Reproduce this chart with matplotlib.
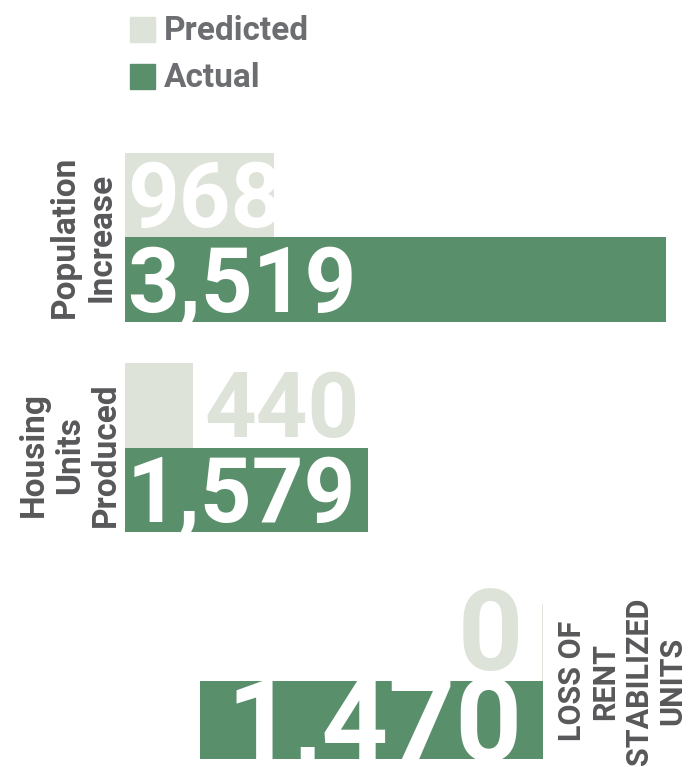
import matplotlib
matplotlib.use('Agg')
import matplotlib.pyplot as plt
from matplotlib.lines import Line2D

# data
categories = ['Population\nIncrease', 'Housing\nUnits\nProduced', 'LOSS OF\nRENT\nSTABILIZED\nUNITS']
predicted = [968, 440, 0]
actual = [3519, 1579, 1470]
pred_labels = ['968', '440', '0']
actual_labels = ['3,519', '1,579', '1,470']

LIGHT = '#dee3d9'
GREEN = '#5a8f6b'
LABEL_GRAY = '#58585a'
LEGEND_GRAY = '#6d6e72'

W, H = 689, 767
plt.rcParams['font.family'] = ['Roboto', 'DejaVu Sans']
fig = plt.figure(figsize=(W / 100, H / 100), dpi=100)


def px_rect(left, top, right, bottom):
    return [left / W, 1 - bottom / H, (right - left) / W, (bottom - top) / H]


def px2pt(p):
    return p * 0.72


def num_label(ax, x, y, s, color, fs, ha='left', dx=0, dy=0, clip=True):
    # baseline shifted so that digit height is centred on y
    ax.annotate(s, (x, y), xytext=(px2pt(dx), -0.355 * fs + px2pt(dy)),
                textcoords='offset points', ha=ha, va='baseline',
                fontsize=fs, fontweight='bold', color=color,
                annotation_clip=False, clip_on=clip)


def clean(ax):
    ax.set_ylim(-0.5, 1.5)
    ax.axis('off')


xmax = max(actual[0], actual[1])

# panel 1 - population
ax1 = fig.add_axes(px_rect(125, 153, 666, 322))
ax1.barh([1, 0], [predicted[0], actual[0]], height=1.0, color=[LIGHT, GREEN])
ax1.set_xlim(0, xmax)
clean(ax1)
num_label(ax1, 0, 1, pred_labels[0], 'white', 65, dx=2)
num_label(ax1, 0, 0, actual_labels[0], 'white', 65, dx=2)

# panel 2 - housing
ax2 = fig.add_axes(px_rect(125, 363, 666, 532))
ax2.barh([1, 0], [predicted[1], actual[1]], height=1.0, color=[LIGHT, GREEN])
ax2.set_xlim(0, xmax)
clean(ax2)
num_label(ax2, predicted[1], 1, pred_labels[1], LIGHT, 65, dx=12)
num_label(ax2, 0, 0, actual_labels[1], 'white', 65, dx=2)

# panel 3 - rent stabilized (bars grow leftwards)
ax3 = fig.add_axes(px_rect(200, 603, 543, 759))
ax3.barh([1, 0], [predicted[2], actual[2]], height=1.0, color=[LIGHT, GREEN],
         edgecolor=[LIGHT, 'none'], linewidth=2)
ax3.set_xlim(actual[2], 0)
clean(ax3)
num_label(ax3, 0, 1, pred_labels[2], LIGHT, 82, ha='right', dx=-20, dy=12, clip=False)
num_label(ax3, 0, 0, actual_labels[2], 'white', 84, ha='right', dx=-20)

# category labels
fig.text(83 / W, 1 - 237 / H, categories[0], rotation=90, ha='center', va='center',
         multialignment='center', fontsize=24, fontweight='bold', color=LABEL_GRAY,
         linespacing=1.2)
fig.text(70 / W, 1 - 455 / H, categories[1], rotation=90, ha='center', va='center',
         multialignment='center', fontsize=24, fontweight='bold', color=LABEL_GRAY,
         linespacing=1.15)
fig.text(622 / W, 1 - 681 / H, categories[2], rotation=90, ha='center', va='center',
         multialignment='center', fontsize=22, fontweight='bold', color=LABEL_GRAY,
         linespacing=1.15)

# legend
handles = [Line2D([], [], marker='s', linestyle='none', markersize=18, color=LIGHT),
           Line2D([], [], marker='s', linestyle='none', markersize=18, color=GREEN)]
leg = fig.legend(handles, ['Predicted', 'Actual'], loc='upper left',
                 bbox_to_anchor=(105 / W, 1 + 8 / H), frameon=False,
                 prop={'size': 24, 'weight': 'bold'}, labelcolor=LEGEND_GRAY,
                 handlelength=0.8, handletextpad=0.28, labelspacing=0.45,
                 borderpad=0.2)

fig.savefig('out.png', dpi=100)
